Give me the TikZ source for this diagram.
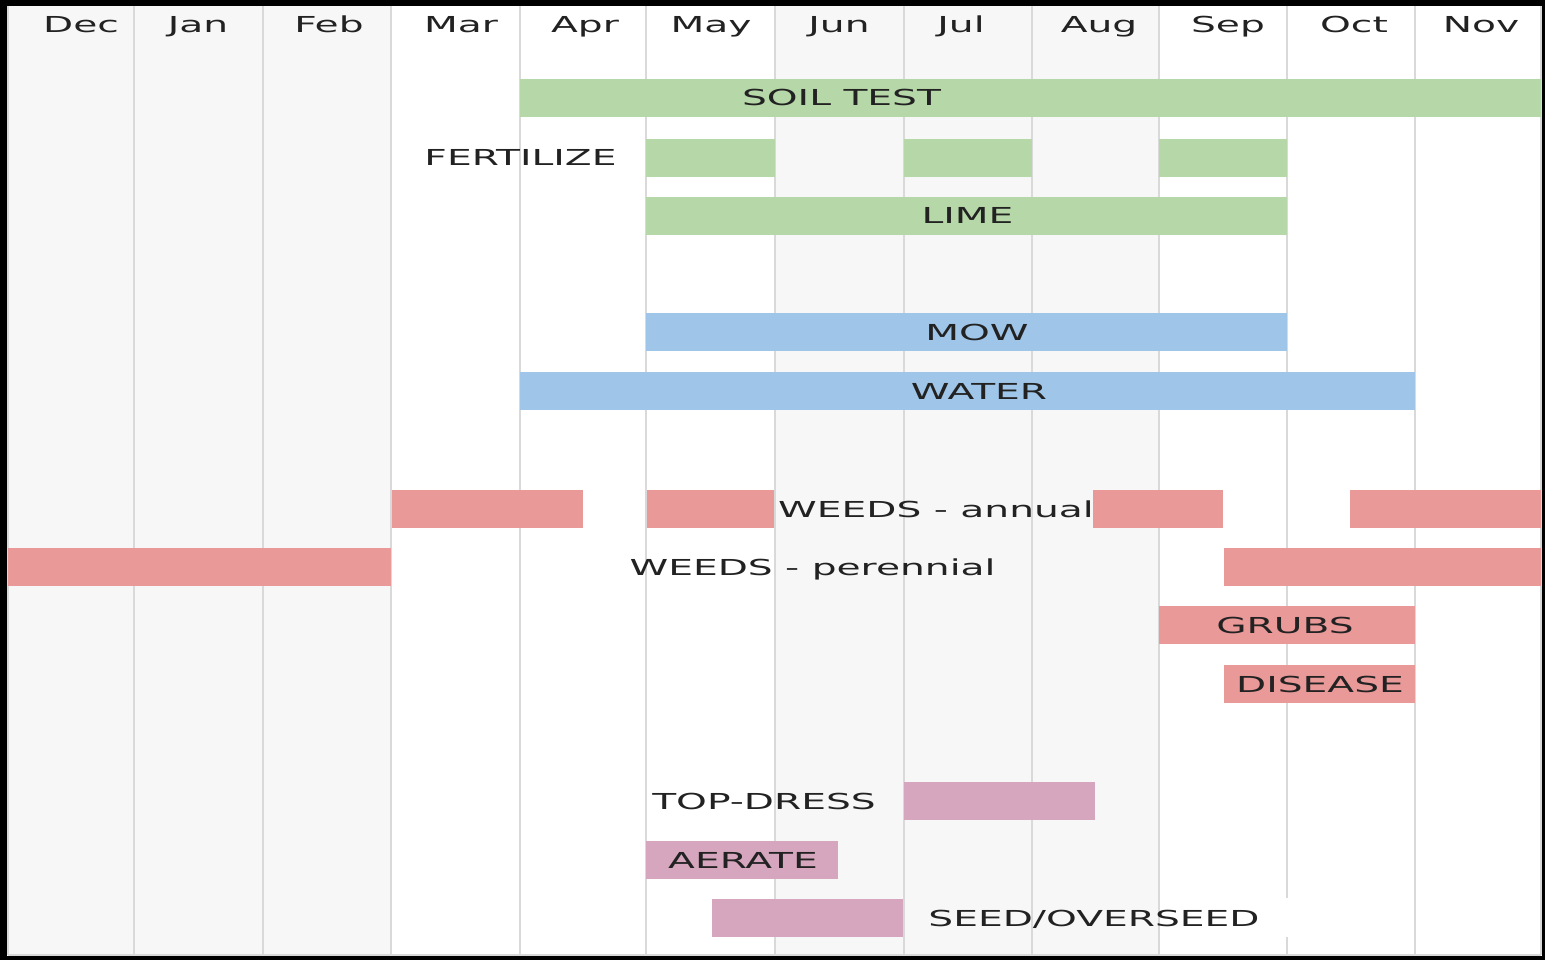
\documentclass[tikz,border=0pt]{standalone}
\usepackage{fontspec}
\setmainfont{DejaVu Sans}[FakeStretch=1.78]
\usetikzlibrary{positioning}
\definecolor{barGreen}{HTML}{B6D7A8}
\definecolor{barBlue}{HTML}{9FC5E8}
\definecolor{barRed}{HTML}{EA9999}
\definecolor{barPink}{HTML}{D5A6BD}
\definecolor{monthShade}{HTML}{F7F7F7}
\definecolor{gridGray}{HTML}{D9D9D9}
\definecolor{ink}{HTML}{222222}

\begin{document}
\begin{tikzpicture}[x=1pt, y=-1pt,
    tasklabel/.style={anchor=base, inner sep=0pt, text=ink, font=\fontsize{22}{26}\selectfont},
    gridline/.style={gridGray, line width=2.5pt}]
        \useasboundingbox (0,0) rectangle (1545,960);
        % frame and shaded months
        \fill[black] (0,0) rectangle (1545,960);
        \fill[white] (7,6) rectangle (1542,956);
        \fill[monthShade] (8,6) rectangle (391,955);
        \fill[monthShade] (775,6) rectangle (1159,955);
        \foreach \x in {8,134,263,391,520,646,775,904,1032,1159,1287,1415,1541}
            \draw[gridline] (\x,6) -- (\x,955);
        \draw[gridline] (8,955) -- (1541,955);
        \fill[white] (1262,898) rectangle (1300,937);
        % month names
        \foreach \x/\m [count=\i] in {81/Dec,198/Jan,329/Feb,461/Mar,585/Apr,711/May,839/Jun,961/Jul,1099/Aug,1228/Sep,1354/Oct,1481/Nov}
            \node (month\i) [tasklabel] at (\x,33) {\m};
        % feeding
        \fill[barGreen] (520,79) rectangle (1541,117);
        \foreach \a/\b in {646/775,904/1032,1159/1287}
            \fill[barGreen] (\a,139) rectangle (\b,177);
        \fill[barGreen] (646,197) rectangle (1287,235);
        \node (soil) [tasklabel] at (841.5,106) {SOIL TEST};
        \node (fert) [tasklabel] at (520.5,166) {FERTILIZE};
        \node (lime) [tasklabel] at (967.5,224) {LIME};
        % mowing and watering
        \fill[barBlue] (646,313) rectangle (1287,351);
        \fill[barBlue] (520,372) rectangle (1415,410);
        \node (mow) [tasklabel] at (977,340) {MOW};
        \node (water) [tasklabel] at (979,399) {WATER};
        % pests
        \foreach \a/\b in {392/583,647/774,1093/1223,1350/1541}
            \fill[barRed] (\a,490) rectangle (\b,528);
        \foreach \a/\b in {8/391,1224/1541}
            \fill[barRed] (\a,548) rectangle (\b,586);
        \fill[barRed] (1159,606) rectangle (1415,644);
        \fill[barRed] (1224,665) rectangle (1415,703);
        \node (annual) [tasklabel] at (936,517) {WEEDS - annual};
        \node (perennial) [tasklabel] at (812.5,575) {WEEDS - perennial};
        \node (grubs) [tasklabel] at (1285,633) {GRUBS};
        \node (disease) [tasklabel] at (1320,692) {DISEASE};
        % soil care
        \fill[barPink] (904,782) rectangle (1095,820);
        \fill[barPink] (646,841) rectangle (838,879);
        \fill[barPink] (712,899) rectangle (903,937);
        \node (topdress) [tasklabel] at (764,809) {TOP-DRESS};
        \node (aerate) [tasklabel] at (743,868) {AERATE};
        \node (seed) [tasklabel] at (1094,926) {SEED/OVERSEED};
    \end{tikzpicture}
\end{document}
